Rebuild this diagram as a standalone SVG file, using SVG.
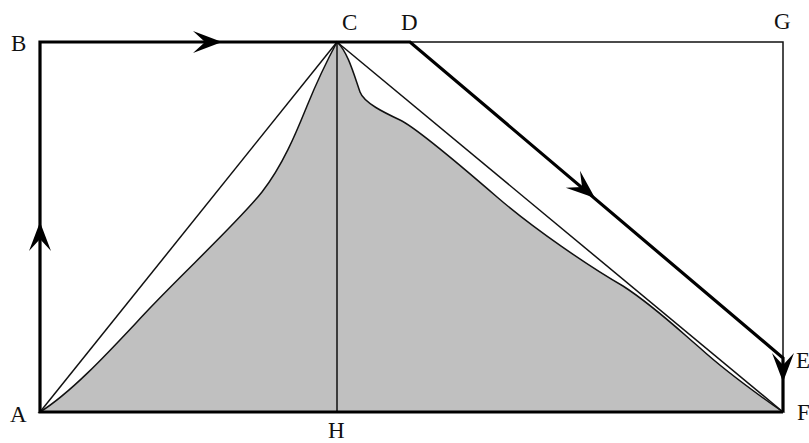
<svg xmlns="http://www.w3.org/2000/svg" width="809" height="443" viewBox="0 0 809 443">
<style>
.thin{fill:none;stroke:#111;stroke-width:1.5}
.thick{fill:none;stroke:#000;stroke-width:3.2;stroke-linejoin:miter}
.lbl{font-family:"Liberation Serif","DejaVu Serif",serif;font-size:23px;fill:#111}
.arr{fill:#000}
</style>
<defs>
<path id="ah" d="M0,0 L-29,-11 L-17,0 L-29,11 Z"/>
</defs>
<rect width="809" height="443" fill="#fff"/>
<g id="region">
<path d="M40,412 C75,390 115,345 150,308 C185,271 240,220 262,192 C284,164 298,128 307,106 C316,84 330,55 337,42 C348,52 354,75 360,92 C364,103 385,113 400,120 C415,127 460,165 497,197 C534,229 590,267 623,286 C654,306 680,331 700,348 C722,368 760,396 783,412 Z" fill="#c0c0c0" stroke="#111" stroke-width="1.5"/>
</g>
<g id="connectors">
<line class="thin" x1="40" y1="412" x2="337" y2="42"/>
<line class="thin" x1="337" y1="42" x2="783" y2="412"/>
<line class="thin" x1="337" y1="42" x2="337" y2="412"/>
<polyline class="thin" points="410,42 783,42 783,358"/>
<path class="thick" d="M783,412 L40,412 L40,42 L410,42 L783,358 L783,412"/>
<use href="#ah" class="arr" transform="translate(40,222) rotate(-90)"/>
<use href="#ah" class="arr" transform="translate(222,42)"/>
<use href="#ah" class="arr" transform="translate(595,198) rotate(40.3)"/>
<use href="#ah" class="arr" transform="translate(783,382) rotate(90)"/>
</g>
<g id="labels">
<text class="lbl" x="11" y="51">B</text>
<text class="lbl" x="342" y="30">C</text>
<text class="lbl" x="401" y="30">D</text>
<text class="lbl" x="774" y="29">G</text>
<text class="lbl" x="796" y="368">E</text>
<text class="lbl" x="797" y="420">F</text>
<text class="lbl" x="10" y="422">A</text>
<text class="lbl" x="328" y="438">H</text>
</g>
</svg>
